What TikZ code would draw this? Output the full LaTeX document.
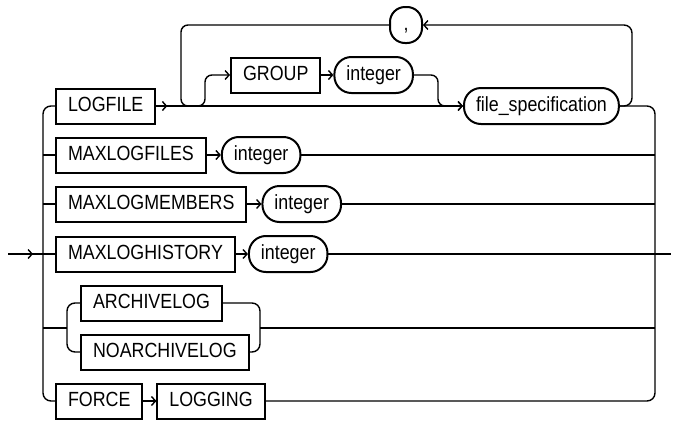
\documentclass[tikz,border=0pt]{standalone}
\usepackage{fontspec}
\setmainfont{Liberation Sans}[FakeStretch=0.87]
\usetikzlibrary{arrows.meta, positioning}
\tikzset{
  kw/.style={draw, line width=2pt, minimum height=35pt, inner xsep=12pt, inner ysep=0pt, text height=14.5pt, text depth=3.5pt},
  var/.style={draw, line width=2pt, rounded corners=17pt, minimum height=36pt, inner xsep=12pt, inner ysep=0pt, text height=14.5pt, text depth=3.5pt},
  link/.style={line width=1.4pt},
  arr/.style={link, -{Straight Barb[length=4pt, width=9pt, line width=1.4pt]}},
  every node/.style={font=\fontsize{20.5}{24}\selectfont}
}
\begin{document}
\begin{tikzpicture}[x=1pt, y=-1pt]
    \useasboundingbox (0,0) rectangle (675,421);
    % keyword boxes and variables
    \node[kw, anchor=west] (logfile) at (55,106) {LOGFILE};
    \node[kw, anchor=west] (group) at (230,75) {GROUP};
    \node[var, right=12pt of group] (grpint) {integer};
    \node[var, anchor=west] (fspec) at (463,106) {file\_specification};
    \node[var, minimum width=32pt, rounded corners=15pt, inner xsep=0pt] (comma) at (406,25) {,};
    \node[kw, anchor=west] (maxfiles) at (55,155) {MAXLOGFILES};
    \node[var, right=14pt of maxfiles] (filesint) {integer};
    \node[kw, anchor=west] (maxmembers) at (55,204) {MAXLOGMEMBERS};
    \node[var, right=14pt of maxmembers] (membersint) {integer};
    \node[kw, anchor=west] (maxhistory) at (55,254) {MAXLOGHISTORY};
    \node[var, right=12pt of maxhistory] (historyint) {integer};
    \node[kw, anchor=west] (archive) at (80,303) {ARCHIVELOG};
    \node[kw, anchor=west] (noarchive) at (80,352) {NOARCHIVELOG};
    \node[kw, anchor=west] (force) at (55,401) {FORCE};
    \node[kw, right=13pt of force] (logging) {LOGGING};

    \coordinate (in) at (8,254);
    \coordinate (lbus) at (43,254);
    \coordinate (rbus) at (655,254);
    \coordinate (out) at (671,254);
    \coordinate (lpL) at (181,106);
    \coordinate (gsplit) at (205,106);
    \coordinate (gjoin) at (438,106);
    \coordinate (lpR) at (632,106);
    \coordinate (archL) at (67,328);
    \coordinate (archR) at (260,328);

    % entry and left bus
    \draw[arr] (in) -- ++(25,0);
    \draw[link] (in) -- (maxhistory.west);
    \draw[link, rounded corners=8pt] (logfile.west) -| (lbus) |- (force.west);
    \draw[link] (maxfiles.west -| lbus) -- (maxfiles.west);
    \draw[link] (maxmembers.west -| lbus) -- (maxmembers.west);
    \draw[link] (archL -| lbus) -- (archL);

    % logfile clause with repeat loop
    \draw[arr] (logfile.east) -- ++(11,0);
    \draw[arr] (logfile.east) -- (fspec.west);
    \draw[link, rounded corners=7pt] (comma.west) -| (lpL) -- (gsplit);
    \draw[arr, rounded corners=7pt] (lpL) -- (gsplit) |- (group.west);
    \draw[arr] (group) -- (grpint);
    \draw[arr, rounded corners=7pt] (grpint.east) -| (gjoin) -- (fspec.west);
    \draw[arr, rounded corners=8pt] (fspec.east) -- (lpR) |- (comma.east);

    % other rows
    \draw[arr] (maxfiles) -- (filesint);
    \draw[arr] (maxmembers) -- (membersint);
    \draw[arr] (maxhistory) -- (historyint);
    \draw[link, rounded corners=8pt] (archive.west) -| (archL) |- (noarchive.west);
    \draw[link, rounded corners=8pt] (archive.east) -| (archR) |- (noarchive.east);
    \draw[arr] (force) -- (logging);

    % right bus and exit
    \draw[link, rounded corners=8pt] (fspec.east) -| (rbus) |- (logging.east);
    \draw[link] (filesint.east) -- (filesint.east -| rbus);
    \draw[link] (membersint.east) -- (membersint.east -| rbus);
    \draw[link] (archR) -- (archR -| rbus);
    \draw[link] (historyint.east) -- (out);
\end{tikzpicture}
\end{document}
